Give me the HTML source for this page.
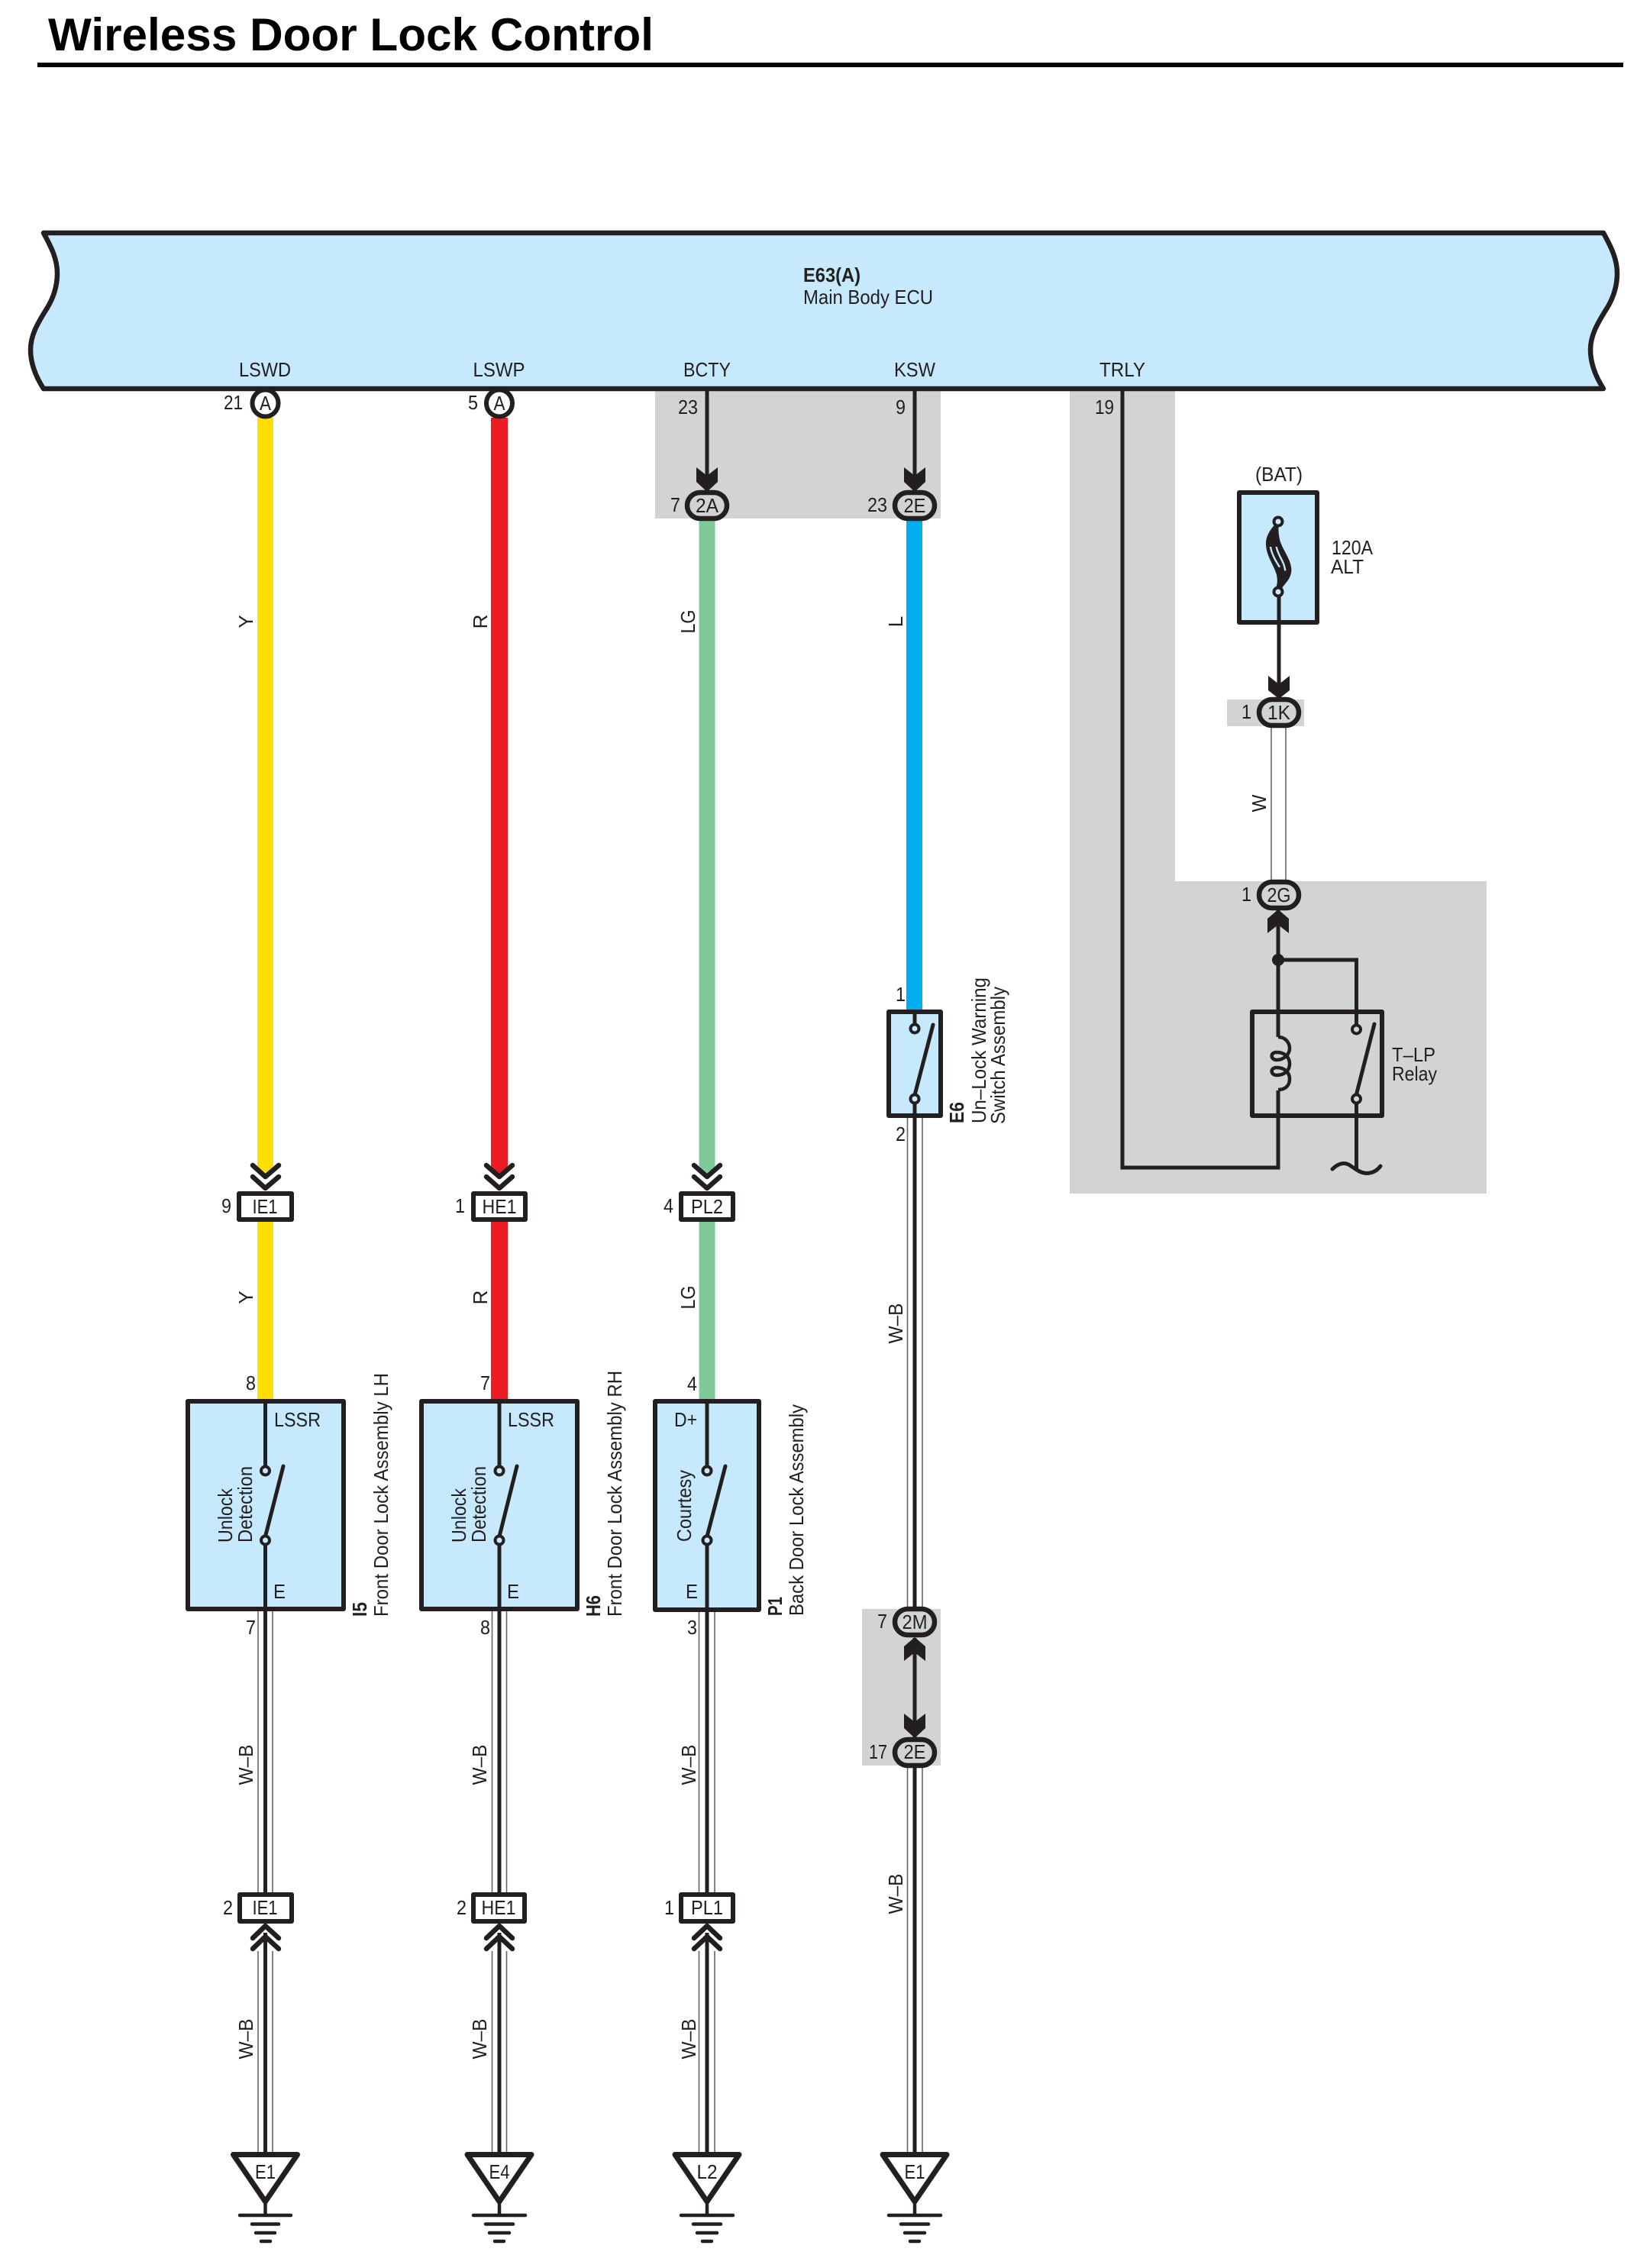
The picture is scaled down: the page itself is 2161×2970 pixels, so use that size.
<!DOCTYPE html>
<html><head><meta charset="utf-8"><style>
html,body{margin:0;padding:0;background:#fff}
svg{display:block}
text{font-family:"Liberation Sans",Arial,sans-serif;font-size:26px;fill:#231f20}
.b{font-weight:bold}
.m{text-anchor:middle}
.e{text-anchor:end}
.k{stroke:#231f20;fill:none;stroke-width:5}
.t{stroke:#666;fill:none;stroke-width:1.6}
.h{stroke:#231f20;fill:none;stroke-width:6.5;stroke-linecap:round;stroke-linejoin:round}
.c{stroke:#231f20;stroke-width:4;fill:#c7e9fd}
.g{stroke:#231f20;stroke-width:4.5;stroke-linecap:round;fill:none}
.p{stroke:#231f20;stroke-width:6.5;fill:#d1d3d4}
.r{stroke:#231f20;stroke-width:6;fill:#fff;stroke-linejoin:round}
.bx{stroke:#231f20;stroke-width:6;fill:#c7e9fd;stroke-linejoin:round}
</style></head><body>
<svg width="2161" height="2970" viewBox="0 0 2161 2970" xmlns="http://www.w3.org/2000/svg">
<rect width="2161" height="2970" fill="#fff"/>
<text x="63" y="66" style="font-size:60px;fill:#000" class="b" textLength="793" lengthAdjust="spacingAndGlyphs">Wireless Door Lock Control</text>
<rect x="49" y="82" width="2077" height="6" fill="#000"/>

<!-- gray regions -->
<rect x="858" y="512" width="374" height="167" fill="#d1d3d4"/>
<polygon points="1401,512 1539,512 1539,1154 1947,1154 1947,1563 1401,1563" fill="#d1d3d4"/>
<rect x="1607" y="916" width="101" height="35" fill="#d1d3d4"/>
<rect x="1129" y="2107" width="103" height="205" fill="#d1d3d4"/>

<!-- coloured wires -->
<polygon points="337,547 358,547 358,1527 347.5,1538 337,1527" fill="#ffde00"/>
<rect x="337" y="1600" width="21" height="232" fill="#ffde00"/>
<polygon points="643,547 665,547 665,1527 654,1538 643,1527" fill="#ed1c24"/>
<rect x="643" y="1600" width="22" height="232" fill="#ed1c24"/>
<polygon points="915.5,682 936.5,682 936.5,1527 926,1538 915.5,1527" fill="#80c99b"/>
<rect x="915.5" y="1600" width="21" height="232" fill="#80c99b"/>
<rect x="1187" y="682" width="21" height="640" fill="#00aeef"/>

<!-- W-B wires -->
<g class="t">
<path d="M338 2110V2478M357 2110V2478M338 2555V2818M357 2555V2818"/>
<path d="M644.5 2110V2478M663.5 2110V2478M644.5 2555V2818M663.5 2555V2818"/>
<path d="M915.5 2110V2478M936 2110V2478M915.5 2555V2818M936 2555V2818"/>
<path d="M1188.5 1464V2104M1208 1464V2104M1188.5 2314V2818M1208 2314V2818"/>
<path d="M1665 953V1152M1684 953V1152"/>
</g>
<g class="k">
<path d="M347.5 2017V2478M347.5 2531V2818"/>
<path d="M654 2017V2478M654 2531V2818"/>
<path d="M926 2017V2478M926 2531V2818"/>
<path d="M1198 1439V2104M1198 2145V2275M1198 2314V2818"/>
<path d="M926 512V630M1198 512V630"/>
<path d="M1470 512V1529H1674V1192M1674 1257H1776.5V1348M1776.5 1439V1530"/>
<path d="M1675 775V900"/>
</g>

<!-- ECU -->
<path d="M57 305C68 325 75 340 75 358C75 378 68 393 62 403C48 425 40 440 40 458C40 478 48 495 57 509L2100 509C2091 495 2083 478 2083 458C2083 440 2091 425 2105 403C2111 393 2118 378 2118 358C2118 340 2111 325 2100 305Z" fill="#c7e9fd" stroke="#231f20" stroke-width="6.5" stroke-linejoin="round"/>
<text x="1052" y="369" class="b" textLength="75" lengthAdjust="spacingAndGlyphs">E63(A)</text>
<text x="1052" y="398" textLength="170" lengthAdjust="spacingAndGlyphs">Main Body ECU</text>
<text x="347" y="493" class="m" textLength="68" lengthAdjust="spacingAndGlyphs">LSWD</text>
<text x="653.5" y="493" class="m" textLength="68" lengthAdjust="spacingAndGlyphs">LSWP</text>
<text x="926" y="493" class="m" textLength="62" lengthAdjust="spacingAndGlyphs">BCTY</text>
<text x="1198" y="493" class="m" textLength="54" lengthAdjust="spacingAndGlyphs">KSW</text>
<text x="1470" y="493" class="m" textLength="60" lengthAdjust="spacingAndGlyphs">TRLY</text>

<!-- round pins -->
<ellipse cx="347.5" cy="528" rx="17" ry="17.5" class="r"/><ellipse cx="654" cy="528" rx="17" ry="17.5" class="r"/>
<text x="347.5" y="537" class="m" textLength="15" lengthAdjust="spacingAndGlyphs">A</text>
<text x="654" y="537" class="m" textLength="15" lengthAdjust="spacingAndGlyphs">A</text>
<text x="318" y="536" class="e" textLength="25" lengthAdjust="spacingAndGlyphs">21</text>
<text x="626" y="536" class="e" textLength="13" lengthAdjust="spacingAndGlyphs">5</text>
<text x="914" y="542" class="e" textLength="26" lengthAdjust="spacingAndGlyphs">23</text>
<text x="1186" y="542" class="e" textLength="13" lengthAdjust="spacingAndGlyphs">9</text>
<text x="1459" y="542" class="e" textLength="25" lengthAdjust="spacingAndGlyphs">19</text>

<!-- solid arrows -->
<g fill="#231f20">
<path d="M912 612L926 623L940 612V631L926 644L912 631Z"/>
<path d="M1184 612L1198 623L1212 612V631L1198 644L1184 631Z"/>
<path d="M1661 885L1675 896L1689 885V904L1675 915L1661 904Z"/>
<path d="M1660 1222L1674 1211L1688 1222V1203L1674 1191L1660 1203Z"/>
<path d="M1184 2175L1198 2164L1212 2175V2156L1198 2144L1184 2156Z"/>
<path d="M1184 2244L1198 2255L1212 2244V2263L1198 2276L1184 2263Z"/>
</g>

<!-- pills -->
<rect x="900" y="645" width="52" height="34" rx="17" class="p"/>
<rect x="1172" y="645" width="52" height="34" rx="17" class="p"/>
<rect x="1649" y="916" width="52" height="34" rx="17" class="p"/>
<rect x="1649" y="1155" width="52" height="34" rx="17" class="p"/>
<rect x="1172" y="2107" width="52" height="34" rx="17" class="p"/>
<rect x="1172" y="2278" width="52" height="34" rx="17" class="p"/>
<text x="926" y="671" class="m" textLength="30" lengthAdjust="spacingAndGlyphs">2A</text>
<text x="1198" y="671" class="m" textLength="29" lengthAdjust="spacingAndGlyphs">2E</text>
<text x="1675" y="942" class="m" textLength="30" lengthAdjust="spacingAndGlyphs">1K</text>
<text x="1675" y="1181" class="m" textLength="31" lengthAdjust="spacingAndGlyphs">2G</text>
<text x="1198" y="2133" class="m" textLength="33" lengthAdjust="spacingAndGlyphs">2M</text>
<text x="1198" y="2303" class="m" textLength="29" lengthAdjust="spacingAndGlyphs">2E</text>
<text x="891" y="670" class="e" textLength="13" lengthAdjust="spacingAndGlyphs">7</text>
<text x="1162" y="670" class="e" textLength="26" lengthAdjust="spacingAndGlyphs">23</text>
<text x="1639" y="941" class="e" textLength="13" lengthAdjust="spacingAndGlyphs">1</text>
<text x="1639" y="1180" class="e" textLength="13" lengthAdjust="spacingAndGlyphs">1</text>
<text x="1162" y="2132" class="e" textLength="13" lengthAdjust="spacingAndGlyphs">7</text>
<text x="1162" y="2303" class="e" textLength="24" lengthAdjust="spacingAndGlyphs">17</text>

<!-- chevrons -->
<g class="h">
<path d="M331 1526L347.5 1541L365 1526M331 1541L347.5 1556L365 1541"/>
<path d="M637 1526L654 1541L671 1526M637 1541L654 1556L671 1541"/>
<path d="M909 1526L926 1541L943 1526M909 1541L926 1556L943 1541"/>
<path d="M331 2538L347.5 2522L365 2538M331 2552L347.5 2536L365 2552"/>
<path d="M637 2538L654 2522L671 2538M637 2552L654 2536L671 2552"/>
<path d="M909 2538L926 2522L943 2538M909 2552L926 2536L943 2552"/>
</g>

<!-- rect connectors -->
<rect x="313" y="1563" width="69" height="34" class="r"/>
<rect x="620" y="1563" width="68" height="34" class="r"/>
<rect x="892" y="1563" width="68" height="34" class="r"/>
<rect x="314" y="2481" width="68" height="35" class="r"/>
<rect x="620" y="2481" width="67" height="35" class="r"/>
<rect x="892" y="2481" width="68" height="35" class="r"/>
<text x="347" y="1589" class="m" textLength="33" lengthAdjust="spacingAndGlyphs">IE1</text>
<text x="654" y="1589" class="m" textLength="45" lengthAdjust="spacingAndGlyphs">HE1</text>
<text x="926" y="1589" class="m" textLength="42" lengthAdjust="spacingAndGlyphs">PL2</text>
<text x="347" y="2507" class="m" textLength="33" lengthAdjust="spacingAndGlyphs">IE1</text>
<text x="653" y="2507" class="m" textLength="45" lengthAdjust="spacingAndGlyphs">HE1</text>
<text x="926" y="2507" class="m" textLength="42" lengthAdjust="spacingAndGlyphs">PL1</text>
<text x="303" y="1588" class="e" textLength="13" lengthAdjust="spacingAndGlyphs">9</text>
<text x="609" y="1588" class="e" textLength="13" lengthAdjust="spacingAndGlyphs">1</text>
<text x="882" y="1588" class="e" textLength="13" lengthAdjust="spacingAndGlyphs">4</text>
<text x="305" y="2507" class="e" textLength="13" lengthAdjust="spacingAndGlyphs">2</text>
<text x="611" y="2507" class="e" textLength="13" lengthAdjust="spacingAndGlyphs">2</text>
<text x="883" y="2507" class="e" textLength="13" lengthAdjust="spacingAndGlyphs">1</text>

<!-- switch boxes -->
<rect x="246" y="1835" width="204" height="272" class="bx"/>
<rect x="552" y="1835" width="204" height="272" class="bx"/>
<rect x="858" y="1835" width="136" height="273" class="bx"/>
<rect x="1164" y="1325" width="68" height="136" class="bx"/>
<path class="k" d="M347.5 1832V1926M347.5 2017V2112M654 1832V1926M654 2017V2112M926 1832V1926M926 2017V2112M1198 1322V1347M1198 1439V1465" stroke-width="4.5"/>
<path class="h" d="M347.5 2012L371 1920M654 2012L677 1920M926 2012L950 1920M1198 1434L1222 1342M1776.5 1433L1800 1341" style="stroke-width:5"/>
<circle cx="347.5" cy="1926" r="5.5" class="c"/><circle cx="347.5" cy="2017" r="5.5" class="c"/>
<circle cx="654" cy="1926" r="5.5" class="c"/><circle cx="654" cy="2017" r="5.5" class="c"/>
<circle cx="926" cy="1926" r="5.5" class="c"/><circle cx="926" cy="2017" r="5.5" class="c"/>
<circle cx="1198" cy="1347" r="5.5" class="c"/><circle cx="1198" cy="1439" r="5.5" class="c"/>

<text x="359" y="1868" textLength="61" lengthAdjust="spacingAndGlyphs">LSSR</text>
<text x="358" y="2093" textLength="16" lengthAdjust="spacingAndGlyphs">E</text>
<text x="665" y="1868" textLength="61" lengthAdjust="spacingAndGlyphs">LSSR</text>
<text x="664" y="2093" textLength="16" lengthAdjust="spacingAndGlyphs">E</text>
<text x="883" y="1868" textLength="30" lengthAdjust="spacingAndGlyphs">D+</text>
<text x="898" y="2093" textLength="16" lengthAdjust="spacingAndGlyphs">E</text>

<!-- rotated texts inside boxes -->
<text transform="translate(304 2020) rotate(-90)" textLength="71" lengthAdjust="spacingAndGlyphs">Unlock</text>
<text transform="translate(330 2020) rotate(-90)" textLength="100" lengthAdjust="spacingAndGlyphs">Detection</text>
<text transform="translate(610 2020) rotate(-90)" textLength="71" lengthAdjust="spacingAndGlyphs">Unlock</text>
<text transform="translate(636 2020) rotate(-90)" textLength="100" lengthAdjust="spacingAndGlyphs">Detection</text>
<text transform="translate(905 2019) rotate(-90)" textLength="94" lengthAdjust="spacingAndGlyphs">Courtesy</text>

<!-- component labels -->
<text transform="translate(480 2117) rotate(-90)" class="b" textLength="19" lengthAdjust="spacingAndGlyphs">I5</text>
<text transform="translate(508 2117) rotate(-90)" textLength="319" lengthAdjust="spacingAndGlyphs">Front Door Lock Assembly LH</text>
<text transform="translate(786 2117) rotate(-90)" class="b" textLength="28" lengthAdjust="spacingAndGlyphs">H6</text>
<text transform="translate(814 2117) rotate(-90)" textLength="322" lengthAdjust="spacingAndGlyphs">Front Door Lock Assembly RH</text>
<text transform="translate(1024 2116) rotate(-90)" class="b" textLength="25" lengthAdjust="spacingAndGlyphs">P1</text>
<text transform="translate(1052 2116) rotate(-90)" textLength="277" lengthAdjust="spacingAndGlyphs">Back Door Lock Assembly</text>
<text transform="translate(1262 1471) rotate(-90)" class="b" textLength="28" lengthAdjust="spacingAndGlyphs">E6</text>
<text transform="translate(1291 1471) rotate(-90)" textLength="191" lengthAdjust="spacingAndGlyphs">Un–Lock Warning</text>
<text transform="translate(1316 1472) rotate(-90)" textLength="180" lengthAdjust="spacingAndGlyphs">Switch Assembly</text>

<!-- pin numbers at boxes -->
<text x="335" y="1820" class="e" textLength="13" lengthAdjust="spacingAndGlyphs">8</text>
<text x="642" y="1820" class="e" textLength="13" lengthAdjust="spacingAndGlyphs">7</text>
<text x="913" y="1821" class="e" textLength="13" lengthAdjust="spacingAndGlyphs">4</text>
<text x="335" y="2140" class="e" textLength="13" lengthAdjust="spacingAndGlyphs">7</text>
<text x="642" y="2140" class="e" textLength="13" lengthAdjust="spacingAndGlyphs">8</text>
<text x="913" y="2140" class="e" textLength="13" lengthAdjust="spacingAndGlyphs">3</text>
<text x="1186" y="1311" class="e" textLength="13" lengthAdjust="spacingAndGlyphs">1</text>
<text x="1186" y="1494" class="e" textLength="13" lengthAdjust="spacingAndGlyphs">2</text>

<!-- wire colour labels -->
<text transform="translate(331 814) rotate(-90)" class="m">Y</text>
<text transform="translate(638 814) rotate(-90)" class="m">R</text>
<text transform="translate(910 814) rotate(-90)" class="m" textLength="31" lengthAdjust="spacingAndGlyphs">LG</text>
<text transform="translate(1182 814) rotate(-90)" class="m">L</text>
<text transform="translate(331 1699) rotate(-90)" class="m">Y</text>
<text transform="translate(638 1699) rotate(-90)" class="m">R</text>
<text transform="translate(910 1699) rotate(-90)" class="m" textLength="31" lengthAdjust="spacingAndGlyphs">LG</text>
<text transform="translate(1658 1052) rotate(-90)" class="m" textLength="23" lengthAdjust="spacingAndGlyphs">W</text>
<text transform="translate(1182 1733) rotate(-90)" class="m" textLength="53" lengthAdjust="spacingAndGlyphs">W–B</text>
<text transform="translate(1182 2480) rotate(-90)" class="m" textLength="53" lengthAdjust="spacingAndGlyphs">W–B</text>
<text transform="translate(331 2311) rotate(-90)" class="m" textLength="53" lengthAdjust="spacingAndGlyphs">W–B</text>
<text transform="translate(637 2311) rotate(-90)" class="m" textLength="53" lengthAdjust="spacingAndGlyphs">W–B</text>
<text transform="translate(911 2311) rotate(-90)" class="m" textLength="53" lengthAdjust="spacingAndGlyphs">W–B</text>
<text transform="translate(331 2670) rotate(-90)" class="m" textLength="53" lengthAdjust="spacingAndGlyphs">W–B</text>
<text transform="translate(637 2670) rotate(-90)" class="m" textLength="53" lengthAdjust="spacingAndGlyphs">W–B</text>
<text transform="translate(911 2670) rotate(-90)" class="m" textLength="53" lengthAdjust="spacingAndGlyphs">W–B</text>

<!-- fuse -->
<rect x="1623" y="645" width="102" height="170" class="bx"/>
<path class="k" d="M1675 775V815"/>
<g transform="translate(1620 660) scale(.3333)">
<path d="M146 84C128 105 112 130 114 160C116 205 145 240 155 275C160 295 160 315 152 332L176 332C186 315 212 295 214 262C216 220 178 180 168 140C164 120 162 100 164 84Z" fill="#231f20"/>
<path d="M132 168C136 195 150 220 168 248" stroke="#c7e9fd" stroke-width="7" fill="none"/>
<path d="M155 168C160 200 186 225 190 262" stroke="#c7e9fd" stroke-width="7" fill="none"/>
</g>
<circle cx="1674" cy="683" r="5.5" class="c"/>
<circle cx="1674" cy="775" r="5.5" class="c"/>
<text x="1675" y="630" class="m" textLength="62" lengthAdjust="spacingAndGlyphs">(BAT)</text>
<text x="1744" y="726" textLength="54" lengthAdjust="spacingAndGlyphs">120A</text>
<text x="1743" y="751" textLength="43" lengthAdjust="spacingAndGlyphs">ALT</text>

<!-- relay -->
<circle cx="1674" cy="1257" r="8" fill="#231f20"/>
<rect x="1640" y="1325" width="170" height="136" fill="none" stroke="#231f20" stroke-width="6" stroke-linejoin="round"/>
<rect x="1670" y="1358" width="8" height="70" fill="#d1d3d4"/>
<path d="M1674 1358C1684 1358 1689 1366 1689 1373C1689 1380 1682 1388 1672 1388C1664 1388 1663 1378 1672 1378C1682 1378 1689 1384 1689 1393C1689 1402 1682 1408 1672 1408C1664 1408 1663 1398 1672 1398C1682 1398 1689 1404 1689 1413C1689 1421 1684 1427 1674 1427" fill="none" stroke="#231f20" stroke-width="4.5"/>
<circle cx="1776.5" cy="1348" r="5.5" stroke="#231f20" stroke-width="4" fill="#d1d3d4"/>
<circle cx="1776.5" cy="1439" r="5.5" stroke="#231f20" stroke-width="4" fill="#d1d3d4"/>
<path d="M1745 1531C1752 1524 1760 1521 1768 1526C1778 1533 1785 1538 1794 1536C1800 1535 1805 1531 1808 1527" fill="none" stroke="#231f20" stroke-width="5" stroke-linecap="round"/>
<text x="1823" y="1390" textLength="57" lengthAdjust="spacingAndGlyphs">T–LP</text>
<text x="1823" y="1415" textLength="59" lengthAdjust="spacingAndGlyphs">Relay</text>

<!-- grounds -->
<g>
<path d="M305.5 2821.5H389.5L347.5 2883Z" fill="#fff" stroke="#231f20" stroke-width="7" stroke-linejoin="round"/>
<path class="g" d="M347.5 2886V2901M314 2901H381M330 2912.5H365M335 2924H360M342 2935H354"/>
<text x="347.5" y="2853" class="m" textLength="27" lengthAdjust="spacingAndGlyphs">E1</text>
<path d="M612 2821.5H696L654 2883Z" fill="#fff" stroke="#231f20" stroke-width="7" stroke-linejoin="round"/>
<path class="g" d="M654 2886V2901M620 2901H688M636 2912.5H672M641 2924H667M648 2935H660"/>
<text x="654" y="2853" class="m" textLength="27" lengthAdjust="spacingAndGlyphs">E4</text>
<path d="M884 2821.5H968L926 2883Z" fill="#fff" stroke="#231f20" stroke-width="7" stroke-linejoin="round"/>
<path class="g" d="M926 2886V2901M892 2901H960M908 2912.5H944M913 2924H939M920 2935H932"/>
<text x="926" y="2853" class="m" textLength="27" lengthAdjust="spacingAndGlyphs">L2</text>
<path d="M1156 2821.5H1240L1198 2883Z" fill="#fff" stroke="#231f20" stroke-width="7" stroke-linejoin="round"/>
<path class="g" d="M1198 2886V2901M1164 2901H1232M1180 2912.5H1216M1185 2924H1211M1192 2935H1204"/>
<text x="1198" y="2853" class="m" textLength="27" lengthAdjust="spacingAndGlyphs">E1</text>
</g>
</svg>
</body></html>
